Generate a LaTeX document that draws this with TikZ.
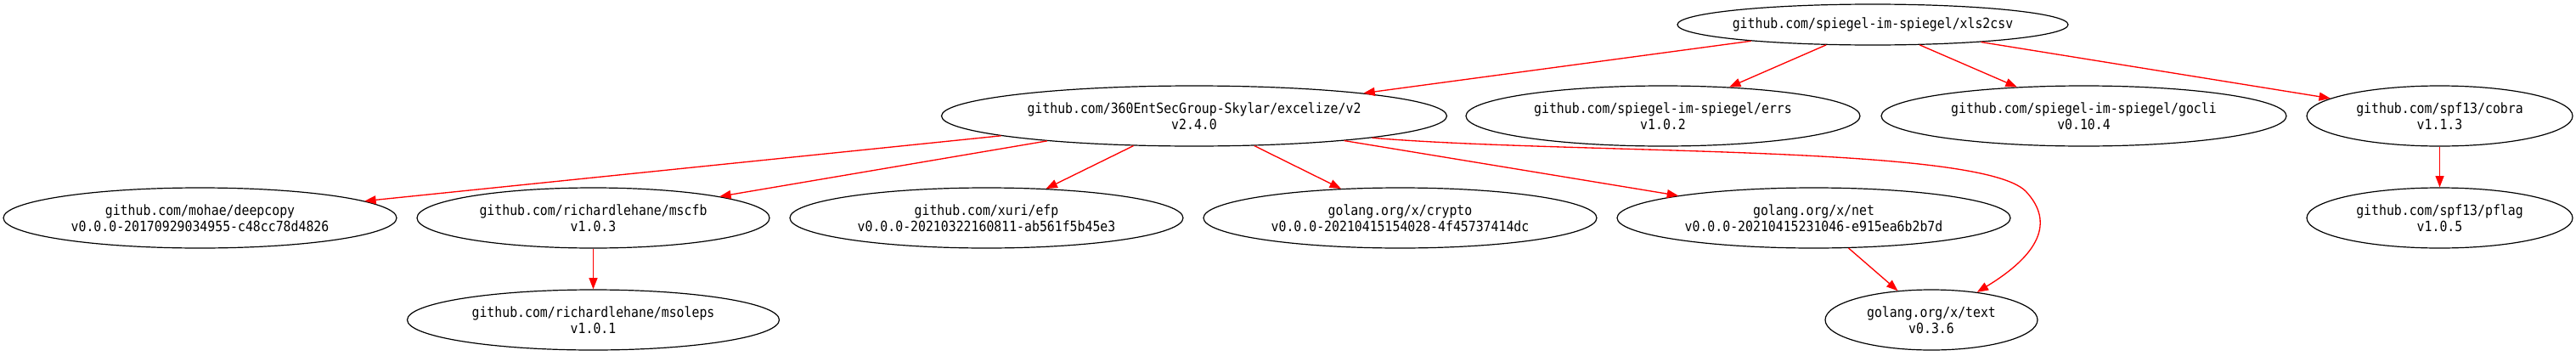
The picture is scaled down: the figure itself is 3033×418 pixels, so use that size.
\documentclass[tikz,border=0pt]{standalone}
\usepackage{fontspec}
\usepackage{tikz}
\usetikzlibrary{shapes.geometric}
\usetikzlibrary{arrows.meta}
\usepackage{xcolor}
\newfontfamily\gvfont[FakeStretch=0.89]{DejaVu Sans Mono}

\begin{document}
\begin{tikzpicture}[x=0.75pt, y=-0.75pt]

    % style
    \definecolor{depred}{RGB}{255, 0, 0}
    \tikzset{
        pkg/.style={ellipse, draw=black, line width=0.9pt, inner xsep=-4pt, inner ysep=0pt, align=center, font=\gvfont\fontsize{12.5pt}{14.5pt}\selectfont, minimum width={0.75*#1pt}, minimum height=36pt},
        pkgv/.style={pkg=#1, minimum height=53.25pt},
        dep/.style={draw=depred, line width=1pt, -{Triangle[length=10pt, width=7.5pt]}}
    }

    % page size, pixel coordinates of the graph
    \useasboundingbox (0,0) rectangle (3033,418);

    % main module
    \node [pkg=460] (xlscsv) at (2205,29) {github.com/spiegel-im-spiegel/xls2csv};

    % direct dependencies
    \node [pkgv=595] (excelize) at (1406,136.5) {github.com/360EntSecGroup-Skylar/excelize/v2\\v2.4.0};
    \node [pkgv=464] (errs) at (1958,136.5) {github.com/spiegel-im-spiegel/errs\\v1.0.2};
    \node [pkgv=477] (gocli) at (2453.5,136.5) {github.com/spiegel-im-spiegel/gocli\\v0.10.4};
    \node [pkgv=313] (cobra) at (2872.5,136.5) {github.com/spf13/cobra\\v1.1.3};

    % second level
    \node [pkgv=463] (deepcopy) at (235.5,256.5) {github.com/mohae/deepcopy\\v0.0.0-20170929034955-c48cc78d4826};
    \node [pkgv=415] (mscfb) at (698.5,256.5) {github.com/richardlehane/mscfb\\v1.0.3};
    \node [pkgv=463] (efp) at (1161.5,256.5) {github.com/xuri/efp\\v0.0.0-20210322160811-ab561f5b45e3};
    \node [pkgv=463] (xcrypto) at (1648.5,256.5) {golang.org/x/crypto\\v0.0.0-20210415154028-4f45737414dc};
    \node [pkgv=463] (xnet) at (2135.5,256.5) {golang.org/x/net\\v0.0.0-20210415231046-e915ea6b2b7d};
    \node [pkgv=313] (pflag) at (2872.5,256.5) {github.com/spf13/pflag\\v1.0.5};

    % third level
    \node [pkgv=438] (msoleps) at (698.5,376.5) {github.com/richardlehane/msoleps\\v1.0.1};
    \node [pkgv=250] (xtext) at (2274,376.5) {golang.org/x/text\\v0.3.6};

    % requirements
    \foreach \from/\to in {xlscsv/excelize, xlscsv/errs, xlscsv/gocli, xlscsv/cobra, excelize/deepcopy, excelize/mscfb, excelize/efp, excelize/xcrypto, excelize/xnet, mscfb/msoleps, xnet/xtext, cobra/pflag}
        \draw [dep] (\from) -- (\to);
    % long edge round golang.org/x/net
    \draw [dep] (excelize.-7) .. controls (1850,182) and (2330,170) .. (2385,225) .. controls (2420,262) and (2400,300) .. (xtext);

\end{tikzpicture}
\end{document}
